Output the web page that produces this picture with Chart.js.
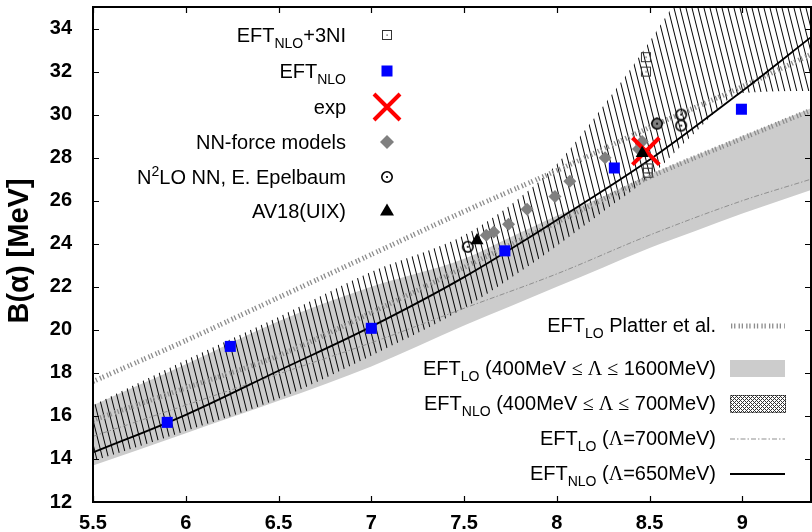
<!DOCTYPE html>
<html>
<head>
<meta charset="utf-8">
<script src="https://cdn.jsdelivr.net/npm/chart.js@4.4.0/dist/chart.umd.min.js"></script>
<style>
  html, body { margin: 0; padding: 0; background: #fff; }
</style>
</head>
<body>
<canvas id="grafico" width="812" height="532"></canvas>
<script>
// ticks
const xTicks = [5.5, 6, 6.5, 7, 7.5, 8, 8.5, 9];
const yTicks = [12, 14, 16, 18, 20, 22, 24, 26, 28, 30, 32, 34];

// pontos
const nloX = [5.9, 6.24, 7.0, 7.72, 8.31, 8.995];
const nloY = [15.7, 19.23, 20.07, 23.67, 27.52, 30.25];
const nlo3nX = [8.48, 8.48, 8.49, 8.49];
const nlo3nY = [32.67, 32.0, 27.5, 27.3];
const expX = [8.48];
const expY = [28.3];
const nnX = [7.62, 7.66, 7.74, 7.84, 7.99, 8.07, 8.26, 8.44, 8.46, 8.54];
const nnY = [24.4, 24.55, 24.9, 25.6, 26.2, 26.9, 28.0, 28.4, 28.75, 29.6];
const n2loX = [7.52, 8.54, 8.67, 8.67];
const n2loY = [23.86, 29.58, 30.0, 29.49];
const av18X = [7.57, 8.46];
const av18Y = [24.15, 28.2];

// curvas
const curveX = [5.5, 6, 6.5, 7, 7.5, 8, 8.5, 9, 9.37];
const nlo650Y = [14.3, 16.05, 18.1, 20.15, 22.45, 25.1, 27.9, 31.1, 33.6];
const lo700Y = [15.05, 16.5, 17.95, 19.4, 21.0, 22.6, 24.4, 26.0, 27.0];
const platterUpY = [17.6, 19.5, 21.5, 23.5, 25.5, 27.4, 29.4, 31.3, 32.8];
const platterLowY = [15.8, 17.3, 18.8, 20.8, 22.9, 25.0, 27.1, 28.9, 30.2];

// bandas
const bandX = [5.5, 6, 6.5, 7, 7.5, 7.75, 8, 8.25, 8.5, 8.75, 9, 9.37];
const loBandLow = [13.7, 15.2, 16.7, 18.3, 20.2, 21.1, 22.0, 22.9, 23.8, 24.6, 25.4, 26.5];
const loBandHigh = [16.5, 18.4, 20.4, 22.0, 23.3, 24.3, 25.3, 26.2, 27.2, 28.1, 29.0, 30.3];
const nloBandLow = [13.9, 15.3, 16.8, 18.8, 21.0, 22.4, 23.9, 25.5, 27.1, 29.2, 31.0, 31.1];
const nloBandHigh = [16.5, 18.6, 20.6, 22.7, 24.4, 25.8, 27.7, 30.4, 33.4, 36.8, 40.5, 45.0];

const sans = '"Liberation Sans", Arial, sans-serif';
const serif = '"Liberation Serif", "Times New Roman", serif';

function pts(xs, ys) {
    return xs.map((x, i) => ({ x: x, y: ys[i] }));
}

function hachura() {
    let c = document.createElement('canvas');
    c.width = 6; c.height = 24;
    let g = c.getContext('2d');
    g.strokeStyle = '#000';
    g.lineWidth = 1;
    g.beginPath();
    g.moveTo(-1, -4); g.lineTo(7, 28);
    g.moveTo(-7, -4); g.lineTo(1, 28);
    g.moveTo(5, -4); g.lineTo(13, 28);
    g.stroke();
    return g.createPattern(c, 'repeat');
}

function pontilhado() {
    let c = document.createElement('canvas');
    c.width = 4; c.height = 4;
    let g = c.getContext('2d');
    g.fillStyle = '#000';
    [[0, 0], [1, 1], [2, 2], [3, 3], [3, 1], [1, 3]].forEach(p => g.fillRect(p[0], p[1], 1, 1));
    return g.createPattern(c, 'repeat');
}

function quadradoPonto() {
    let c = document.createElement('canvas');
    c.width = 12; c.height = 12;
    let g = c.getContext('2d');
    g.strokeStyle = '#333';
    g.lineWidth = 1;
    g.strokeRect(1.5, 1.5, 9, 9);
    g.fillStyle = '#333';
    g.fillRect(5.5, 5.5, 1.2, 1.2);
    return c;
}

function circuloPonto() {
    let c = document.createElement('canvas');
    c.width = 14; c.height = 14;
    let g = c.getContext('2d');
    g.strokeStyle = '#000';
    g.lineWidth = 1.6;
    g.beginPath(); g.arc(7, 7, 5.2, 0, Math.PI * 2); g.stroke();
    g.fillStyle = '#000';
    g.beginPath(); g.arc(7, 7, 1.1, 0, Math.PI * 2); g.fill();
    return c;
}

const imgQuad = quadradoPonto();
const imgCirc = circuloPonto();

function fontOf(p) {
    if (p.sub || p.sup) return '14px ' + sans;
    if (p.serif) return '20px ' + serif;
    return '20px ' + sans;
}

function textoRico(ctx, parts, right, base) {
    let w = 0;
    parts.forEach(p => { ctx.font = fontOf(p); w += ctx.measureText(p.t).width; });
    let x = right - w;
    ctx.textAlign = 'left';
    ctx.textBaseline = 'alphabetic';
    parts.forEach(p => {
        ctx.font = fontOf(p);
        let dy = p.sub ? 5.5 : (p.sup ? -8 : 0);
        ctx.fillText(p.t, x, base + dy);
        x += ctx.measureText(p.t).width;
    });
}

function marcador(ctx, tipo, x, y) {
    ctx.save();
    if (tipo === 'quad') {
        ctx.drawImage(imgQuad, x - 6, y - 6);
    } else if (tipo === 'azul') {
        ctx.fillStyle = '#0000ff';
        ctx.fillRect(x - 5.5, y - 5.5, 11, 11);
    } else if (tipo === 'x') {
        ctx.strokeStyle = '#ff0000';
        ctx.lineWidth = 4;
        ctx.beginPath();
        ctx.moveTo(x - 13, y - 13); ctx.lineTo(x + 13, y + 13);
        ctx.moveTo(x + 13, y - 13); ctx.lineTo(x - 13, y + 13);
        ctx.stroke();
    } else if (tipo === 'losango') {
        ctx.fillStyle = '#808080';
        ctx.beginPath();
        ctx.moveTo(x, y - 7); ctx.lineTo(x + 7, y); ctx.lineTo(x, y + 7); ctx.lineTo(x - 7, y);
        ctx.closePath(); ctx.fill();
    } else if (tipo === 'circ') {
        ctx.drawImage(imgCirc, x - 7, y - 7);
    } else if (tipo === 'tri') {
        ctx.fillStyle = '#000';
        ctx.beginPath();
        ctx.moveTo(x, y - 7.5); ctx.lineTo(x + 7, y + 4.5); ctx.lineTo(x - 7, y + 4.5);
        ctx.closePath(); ctx.fill();
    }
    ctx.restore();
}

const legendaTopo = [
    { parts: [{ t: 'EFT' }, { t: 'NLO', sub: true }, { t: '+3NI' }], y: 35, m: 'quad' },
    { parts: [{ t: 'EFT' }, { t: 'NLO', sub: true }], y: 71, m: 'azul' },
    { parts: [{ t: 'exp' }], y: 107, m: 'x' },
    { parts: [{ t: 'NN-force models' }], y: 142, m: 'losango' },
    { parts: [{ t: 'N' }, { t: '2', sup: true }, { t: 'LO NN, E. Epelbaum' }], y: 177, m: 'circ' },
    { parts: [{ t: 'AV18(UIX)' }], y: 211, m: 'tri' }
];

const legendaBaixo = [
    { parts: [{ t: 'EFT' }, { t: 'LO', sub: true }, { t: ' Platter et al.' }], y: 326, m: 'platter' },
    { parts: [{ t: 'EFT' }, { t: 'LO', sub: true }, { t: ' (400MeV ' }, { t: '\u2264 \u039B \u2264', serif: true }, { t: ' 1600MeV)' }], y: 369, m: 'cinza' },
    { parts: [{ t: 'EFT' }, { t: 'NLO', sub: true }, { t: ' (400MeV ' }, { t: '\u2264 \u039B \u2264', serif: true }, { t: ' 700MeV)' }], y: 404, m: 'hach' },
    { parts: [{ t: 'EFT' }, { t: 'LO', sub: true }, { t: ' (' }, { t: '\u039B', serif: true }, { t: '=700MeV)' }], y: 439, m: 'traco' },
    { parts: [{ t: 'EFT' }, { t: 'NLO', sub: true }, { t: ' (' }, { t: '\u039B', serif: true }, { t: '=650MeV)' }], y: 474, m: 'linha' }
];

const moldura = {
    id: 'moldura',
    afterDraw(chart) {
        const ctx = chart.ctx;
        const a = chart.chartArea;
        const sx = chart.scales.x, sy = chart.scales.y;
        ctx.save();
        ctx.strokeStyle = '#000';
        ctx.lineWidth = 2;
        ctx.strokeRect(a.left, a.top, a.right - a.left, a.bottom - a.top);
        ctx.lineWidth = 1.2;
        ctx.beginPath();
        xTicks.forEach(v => {
            let px = Math.round(sx.getPixelForValue(v)) + 0.5;
            ctx.moveTo(px, a.bottom); ctx.lineTo(px, a.bottom - 6);
            ctx.moveTo(px, a.top); ctx.lineTo(px, a.top + 6);
        });
        yTicks.forEach(v => {
            let py = Math.round(sy.getPixelForValue(v)) + 0.5;
            ctx.moveTo(a.left, py); ctx.lineTo(a.left + 6, py);
            ctx.moveTo(a.right, py); ctx.lineTo(a.right - 6, py);
        });
        ctx.stroke();

        // titulo do eixo y
        ctx.save();
        ctx.translate(20, 251);
        ctx.rotate(-Math.PI / 2);
        ctx.font = 'bold 29px ' + sans;
        ctx.fillStyle = '#000';
        ctx.textAlign = 'center';
        ctx.textBaseline = 'middle';
        ctx.fillText('B(\u03B1) [MeV]', 0, 0);
        ctx.restore();

        // legendas
        legendaTopo.forEach(l => {
            ctx.fillStyle = '#000';
            textoRico(ctx, l.parts, 346, l.y + 7);
            marcador(ctx, l.m, 387, l.y);
        });
        legendaBaixo.forEach(l => {
            ctx.fillStyle = '#000';
            textoRico(ctx, l.parts, 716, l.y + 6);
            ctx.save();
            if (l.m === 'platter') {
                ctx.strokeStyle = '#8c8c8c';
                ctx.lineWidth = 5;
                ctx.setLineDash([1.3, 1.8, 1.3, 3.2]);
                ctx.beginPath(); ctx.moveTo(731, l.y); ctx.lineTo(785, l.y); ctx.stroke();
            } else if (l.m === 'cinza') {
                ctx.fillStyle = '#cccccc';
                ctx.fillRect(730, l.y - 9, 55, 17);
            } else if (l.m === 'hach') {
                ctx.fillStyle = pontilhado();
                ctx.globalAlpha = 0.8;
                ctx.fillRect(730, l.y - 9, 56, 18);
                ctx.globalAlpha = 1;
                ctx.strokeStyle = '#000';
                ctx.lineWidth = 1;
                ctx.setLineDash([1, 1]);
                ctx.strokeRect(730.5, l.y - 8.5, 55, 17);
            } else if (l.m === 'traco') {
                ctx.strokeStyle = '#909090';
                ctx.lineWidth = 1.2;
                ctx.setLineDash([5, 2, 1.5, 2]);
                ctx.beginPath(); ctx.moveTo(730, l.y); ctx.lineTo(785, l.y); ctx.stroke();
            } else if (l.m === 'linha') {
                ctx.strokeStyle = '#000';
                ctx.lineWidth = 2;
                ctx.beginPath(); ctx.moveTo(730, l.y); ctx.lineTo(785, l.y); ctx.stroke();
            }
            ctx.restore();
        });
        ctx.restore();
    }
};

let ctx = document.getElementById('grafico').getContext('2d');
const padraoHach = hachura();

window.grafico = new Chart(ctx, {
    type: 'line',
    data: {
        datasets: [
            { data: pts(nlo3nX, nlo3nY), showLine: false, pointStyle: imgQuad, order: 1 },
            { data: pts(av18X, av18Y), showLine: false, pointStyle: 'triangle', pointRadius: 7.5,
              pointBackgroundColor: '#000', pointBorderWidth: 0, order: 1 },
            { data: pts(n2loX, n2loY), showLine: false, pointStyle: imgCirc, order: 1 },
            { data: pts(nloX, nloY), showLine: false, pointStyle: 'rect', pointRadius: 7.8,
              pointBackgroundColor: '#0000ff', pointBorderWidth: 0, order: 1 },
            { data: pts(expX, expY), showLine: false, pointStyle: 'crossRot', pointRadius: 19,
              pointBorderColor: '#ff0000', pointBorderWidth: 4, order: 2 },
            { data: pts(nnX, nnY), showLine: false, pointStyle: 'rectRot', pointRadius: 6.5,
              pointBackgroundColor: '#808080', pointBorderWidth: 0, order: 3 },
            { data: pts(curveX, nlo650Y), borderColor: '#000', borderWidth: 1.8, pointRadius: 0,
              cubicInterpolationMode: 'monotone', order: 4 },
            { data: pts(curveX, lo700Y), borderColor: '#909090', borderWidth: 1, borderDash: [5, 2, 1.5, 2],
              pointRadius: 0, cubicInterpolationMode: 'monotone', order: 5 },
            { data: pts(curveX, platterUpY), borderColor: '#8c8c8c', borderWidth: 5, borderDash: [1.3, 1.8, 1.3, 3.2],
              pointRadius: 0, cubicInterpolationMode: 'monotone', order: 6 },
            { data: pts(curveX, platterLowY), borderColor: '#8c8c8c', borderWidth: 5, borderDash: [1.3, 1.8, 1.3, 3.2],
              pointRadius: 0, cubicInterpolationMode: 'monotone', order: 6 },
            { data: pts(bandX, nloBandLow), borderWidth: 0, pointRadius: 0, cubicInterpolationMode: 'monotone', order: 7 },
            { data: pts(bandX, nloBandHigh), borderWidth: 0, pointRadius: 0, cubicInterpolationMode: 'monotone',
              fill: { target: 10 }, backgroundColor: padraoHach, order: 7 },
            { data: pts(bandX, loBandLow), borderWidth: 0, pointRadius: 0, cubicInterpolationMode: 'monotone', order: 8 },
            { data: pts(bandX, loBandHigh), borderWidth: 0, pointRadius: 0, cubicInterpolationMode: 'monotone',
              fill: { target: 12 }, backgroundColor: '#cccccc', order: 8 }
        ]
    },
    options: {
        responsive: false,
        animation: false,
        events: [],
        layout: { autoPadding: false, padding: { top: 7, right: 1, left: 0, bottom: 0 } },
        plugins: { legend: { display: false }, tooltip: { enabled: false } },
        scales: {
            x: {
                type: 'linear',
                min: 5.5,
                max: 9.37,
                grid: { display: false },
                border: { display: false },
                afterFit: s => { s.height = 30; s.paddingLeft = 0; s.paddingRight = 0; },
                ticks: {
                    stepSize: 0.5,
                    includeBounds: false,
                    maxRotation: 0,
                    autoSkip: false,
                    padding: 1,
                    color: '#000',
                    font: { family: sans, size: 20, weight: 'bold' },
                    callback: v => String(+v.toFixed(2))
                }
            },
            y: {
                min: 12,
                max: 35,
                grid: { display: false },
                border: { display: false },
                afterFit: s => { s.width = 93; s.paddingTop = 0; s.paddingBottom = 0; },
                ticks: {
                    stepSize: 2,
                    includeBounds: false,
                    padding: 13,
                    color: '#000',
                    font: { family: sans, size: 20, weight: 'bold' },
                    callback: v => String(v)
                }
            }
        }
    },
    plugins: [moldura]
});
</script>
</body>
</html>
